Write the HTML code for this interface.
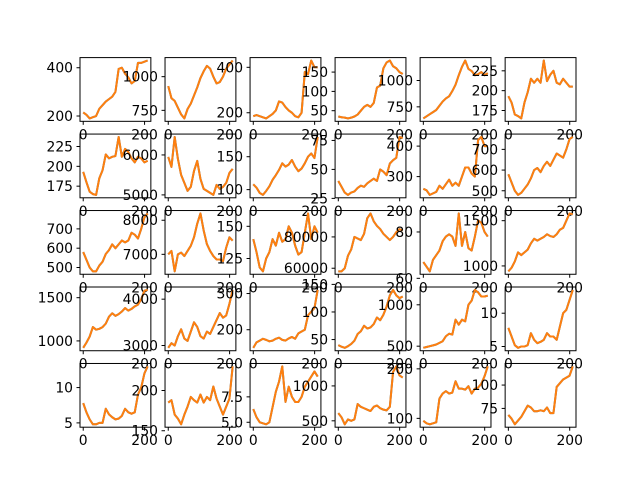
<!DOCTYPE html>
<html><head><meta charset="utf-8">
<style>
html,body{margin:0;padding:0;background:#fff;}
svg{display:block;font-family:"DejaVu Sans","Liberation Sans",sans-serif;}
</style></head>
<body>
<svg id="fig" width="640" height="480" viewBox="0 0 640 480" xmlns="http://www.w3.org/2000/svg">
<rect width="640" height="480" fill="#fff"/>
</svg>
<script>
const xTicks = [0, 200];
const xMax = 210;
const s0 = [215,205,190,195,200,230,245,260,270,280,300,395,400,375,360,335,345,420,420,425,430];
const s1 = [930,840,820,770,720,690,760,800,860,920,990,1040,1080,1060,1000,950,960,1000,1060,1090,1120];
const s2 = [185,190,185,180,175,185,195,210,250,245,225,210,200,185,180,200,380,370,430,400,400];
const s3 = [35,33,32,30,32,35,40,50,60,65,60,70,110,115,160,175,180,165,160,150,145];
const s4 = [640,660,680,700,720,760,800,830,850,900,960,1050,1130,1190,1110,1090,1050,1060,1080,1050,1070];
const s5 = [193,185,170,168,165,185,198,215,210,215,210,238,212,220,225,210,208,215,210,205,205];
const s6 = [193,180,168,165,164,185,195,215,210,212,213,237,212,222,218,210,205,212,210,205,207];
const s7 = [5950,5700,6450,5900,5500,5300,5100,5200,5600,5850,5400,5150,5100,5050,5000,5250,5150,5200,5300,5550,5650];
const s8 = [108,103,95,92,98,105,115,122,130,140,135,138,145,135,128,132,140,150,155,148,180];
const s9 = [40,35,30,28,30,31,34,36,35,38,40,42,40,50,48,45,55,58,60,78,77];
const s10 = [260,255,240,245,250,270,260,275,290,270,280,270,300,330,330,310,300,420,430,400,400];
const s11 = [580,540,500,480,490,510,530,560,600,610,590,620,640,620,650,680,670,660,700,750,760];
const s12 = [580,540,500,480,480,510,530,570,590,620,600,620,640,630,640,680,670,650,700,760,780];
const s13 = [7000,7100,6500,7000,7050,6950,7100,7250,7500,7900,8200,7700,7300,7100,6950,6850,6850,6800,7200,7500,7400];
const s14 = [140,130,118,115,125,130,140,135,145,138,140,150,145,135,128,130,145,160,140,150,145];
const s15 = [58000,58000,60000,68000,72000,80000,79000,78000,82000,92000,95000,90000,87000,85000,82000,80000,78000,80000,83000,85000,84000];
const s16 = [67,65,63,68,70,72,76,78,79,78,74,88,74,80,73,72,78,85,84,80,78];
const s17 = [940,980,1050,1150,1120,1150,1180,1250,1300,1280,1300,1320,1350,1330,1320,1350,1400,1420,1500,1580,1570];
const s18 = [920,980,1050,1160,1130,1140,1160,1200,1280,1320,1290,1310,1340,1380,1350,1370,1400,1420,1480,1580,1590];
const s19 = [2950,3050,3000,3200,3350,3150,3100,3300,3500,3400,3200,3150,3300,3250,3400,3550,3700,3600,3650,3900,4200];
const s20 = [150,165,170,175,172,168,170,175,178,172,170,176,180,175,190,195,200,240,250,260,310];
const s21 = [40,37,35,38,42,48,60,65,75,70,72,78,90,85,95,110,130,140,130,125,128];
const s22 = [480,490,500,510,520,540,560,620,650,640,820,760,820,800,1000,1050,1180,1150,1100,1100,1110];
const s23 = [7.8,6.5,5.2,4.8,5,5,5.2,7,6,5.5,5.7,6,7,6.5,6.5,6,8,10,10.5,12,13.5];
const s24 = [7.8,6.5,5.5,4.8,4.8,5,5,7,6.2,5.8,5.5,5.6,6,7,6.5,6.3,6.5,9,10,12,13];
const s25 = [185,188,170,165,158,170,180,192,188,185,195,185,192,188,205,190,180,170,180,190,230];
const s26 = [6.3,5.5,5,4.9,4.8,5,6.5,8,9,10.5,7,8.5,7.5,7,7,7.5,8.5,9,9.5,10,9.5];
const s27 = [610,550,450,520,500,520,740,700,680,660,640,700,720,680,660,650,700,1200,1280,1150,1120];
const s28 = [95,90,88,90,92,140,150,155,150,152,175,160,160,158,165,150,160,162,170,185,205];
const s29 = [68,64,58,62,66,72,78,76,72,72,73,72,76,70,70,98,102,106,108,110,120];
const series = [s0,s1,s2,s3,s4,s5,s6,s7,s8,s9,s10,s11,s12,s13,s14,s15,s16,s17,s18,s19,s20,s21,s22,s23,s24,s25,s26,s27,s28,s29];
const yTicks = [[200,400],[750,1000],[200,400],[50,100,150],[750,1000],[175,200,225],
 [175,200,225],[5000,6000],[100,150],[25,50,75],[300,400],[500,600,700],
 [500,600,700],[7000,8000],[125,150],[60000,80000],[60,80],[1000,1500],
 [1000,1500],[3000,4000],[200,300],[50,100,150],[500,1000],[5,10],
 [5,10],[150,200],[5.0,7.5],[500,1000],[100,200],[75,100]];
const yTickText = [null,null,null,null,null,null,null,null,null,null,null,null,null,null,null,null,null,null,null,null,null,null,null,null,null,null,["5.0","7.5"],null,null,null];

const NS = "http://www.w3.org/2000/svg";
const svg = document.getElementById('fig');
function mk(tag, attrs, parent){const e=document.createElementNS(NS,tag);for(const k in attrs)e.setAttribute(k,attrs[k]);(parent||svg).appendChild(e);return e;}
const L=80,T=57.6,W=496,H=369.6;
const aw=W/(6+5*0.2), ah=H/(5+4*0.2);
for(let i=0;i<30;i++){
  const r=Math.floor(i/6), c=i%6;
  const x0=L+c*aw*1.2, y0=T+r*ah*1.2;
  const data=series[i];
  const g=mk('g',{});
  
  
  let mn=Math.min(...data), mx=Math.max(...data);
  const pad=(mx-mn)*0.05; const lo=mn-pad, hi=mx+pad;
  const xl=-xMax*0.05, xh=xMax*1.05;
  const sx=v=>x0+(v-xl)/(xh-xl)*aw;
  const sy=v=>y0+ah-(v-lo)/(hi-lo)*ah;
  const n=data.length;
  const pts=data.map((v,k)=>sx(k*xMax/(n-1)).toFixed(2)+','+sy(v).toFixed(2)).join(' ');
  const bl=mk('polyline',{points:pts,fill:'none',stroke:'#1f77b4','stroke-width':2,'stroke-linejoin':'round'},g);
  
  
  const ol=mk('polyline',{points:pts,fill:'none',stroke:'#ff7f0e','stroke-width':2,'stroke-linejoin':'round'},g);
  
  
  const fr=mk('rect',{x:x0,y:y0,width:aw,height:ah,fill:'none',stroke:'#000','stroke-width':1},g);
  
  
  xTicks.forEach(t=>{
    const x=sx(t);
    mk('line',{x1:x,x2:x,y1:y0+ah,y2:y0+ah+3.5,stroke:'#000','stroke-width':1},g);
    const tx=mk('text',{x:x,y:y0+ah+18,'font-size':13.9,'text-anchor':'middle',fill:'#000'},g);
    tx.textContent=t;
    
    
  });
  yTicks[i].forEach((t,k)=>{
    const y=sy(t);
    mk('line',{x1:x0-3.5,x2:x0,y1:y,y2:y,stroke:'#000','stroke-width':1},g);
    const tx=mk('text',{x:x0-7,y:y+5,'font-size':13.9,'text-anchor':'end',fill:'#000'},g);
    tx.textContent=yTickText[i]?yTickText[i][k]:t;
    
    
  });
}
</script>
</body></html>
